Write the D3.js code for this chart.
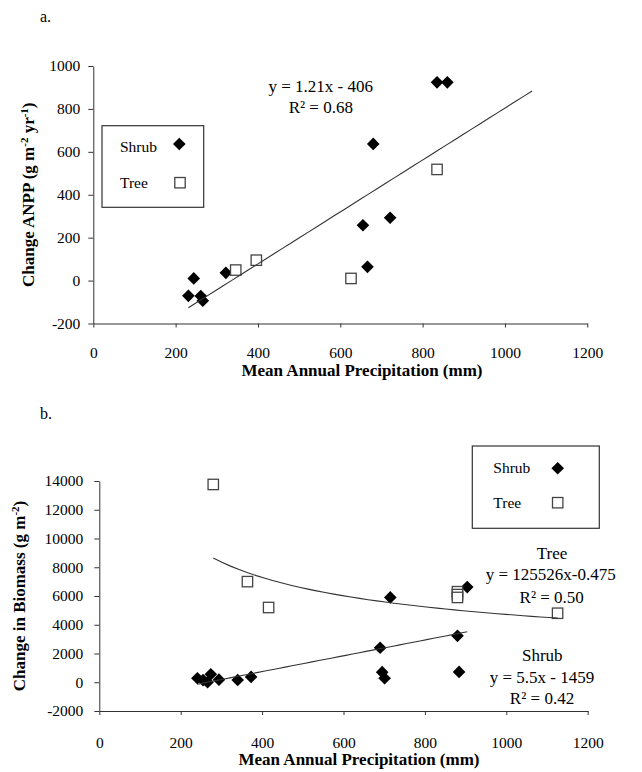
<!DOCTYPE html>
<html>
<head>
<meta charset="utf-8">
<script src="https://cdn.jsdelivr.net/npm/d3@7"></script>
<style>
body { margin: 0; background: #fff; }
text { font-family: "Liberation Serif", "Times New Roman", serif; fill: #000; }
</style>
</head>
<body>
<script>
// shared x axis (mean annual precipitation, mm)
var xTicks = [0, 200, 400, 600, 800, 1000, 1200];

// panel a: change in ANPP
var shrubMapA = [231, 244, 261, 266, 322, 655, 666, 680, 721, 835, 860];
var shrubAnpp = [-71, 10, -72, -94, 36, 258, 64, 637, 293, 924, 924];
var treeMapA = [346, 396, 626, 835];
var treeAnpp = [49, 95, 10, 518];
var yTicksA = [-200, 0, 200, 400, 600, 800, 1000];
var fitA = [1.21, -406];          // y = 1.21x - 406, all sites
var fitRangeA = [231, 1066];

// panel b: change in biomass
var shrubMapB = [241, 255, 266, 274, 294, 340, 373, 690, 695, 701, 715, 880, 884, 904];
var shrubBio = [280, 150, 0, 560, 180, 160, 370, 2400, 700, 280, 5900, 3230, 720, 6620];
var treeMapB = [280, 364, 416, 880, 880, 880, 1126];
var treeBio = [13760, 7000, 5200, 6300, 6100, 5900, 4800];
var yTicksB = [-2000, 0, 2000, 4000, 6000, 8000, 10000, 12000, 14000];
var fitShrubB = [5.5, -1459];      // y = 5.5x - 1459
var fitTreeB = [125526, -0.475];   // y = 125526 x^-0.475

var diamond = d3.symbol().type(d3.symbolSquare).size(80);
var plain = function(d){ return String(d); };   // keep "-200", no thousands comma

function styleAxis(g){
    g.attr("font-family", "Liberation Serif, Times New Roman, serif")
     .attr("font-size", 15.5);
    g.selectAll("path, line").attr("stroke", "#333");
    g.selectAll("text").attr("fill", "#000");
}

function addShrubs(g, xs, ys, x, y){
    g.append("g").selectAll("path")
        .data(d3.range(xs.length))
        .enter()
        .append("path")
        .attr("d", diamond)
        .attr("transform", function(i){
            return "translate(" + x(xs[i]) + "," + y(ys[i]) + ") rotate(45)";
        })
        .attr("fill", "#000");
}

function addTrees(g, xs, ys, x, y){
    g.append("g").selectAll("rect")
        .data(d3.range(xs.length))
        .enter()
        .append("rect")
        .attr("x", function(i){ return x(xs[i]) - 5.2; })
        .attr("y", function(i){ return y(ys[i]) - 5.2; })
        .attr("width", 10.4)
        .attr("height", 10.4)
        .attr("fill", "#fff")
        .attr("stroke", "#444")
        .attr("stroke-width", 1.3);
}

function addFit(g, f, lo, hi, x, y){
    var pts = d3.range(0, 41).map(function(k){
        var v = lo + (hi - lo) * k / 40;
        return [v, f(v)];
    });
    g.append("path")
        .attr("d", d3.line().x(function(d){ return x(d[0]); }).y(function(d){ return y(d[1]); })(pts))
        .attr("fill", "none")
        .attr("stroke", "#333")
        .attr("stroke-width", 1.1);
}

function legend(g, left, top, w, h){
    g.append("rect")
        .attr("x", left).attr("y", top)
        .attr("width", w).attr("height", h)
        .attr("fill", "#fff")
        .attr("stroke", "#333")
        .attr("stroke-width", 1.2);
}

function centreText(g, s, cx, by, size){
    return g.append("text")
        .attr("x", cx).attr("y", by)
        .attr("text-anchor", "middle")
        .attr("font-size", size)
        .text(s);
}

function init(){
    var svg = d3.select("body").append("svg")
        .attr("width", 642)
        .attr("height", 772);

    //---------------- panel a
    var xA = d3.scaleLinear().domain([0, 1200]).range([93.3, 587.3]);
    var yA = d3.scaleLinear().domain([-200, 1000]).range([323.5, 66]);
    var gA = svg.append("g");

    gA.append("text").attr("x", 40).attr("y", 22).attr("font-size", 16).text("a.");

    gA.append("g")
        .attr("transform", "translate(0," + yA(-200) + ")")
        .call(d3.axisBottom(xA).tickValues(xTicks).tickFormat(plain).tickSize(4).tickSizeOuter(0).tickPadding(19))
        .call(styleAxis);
    gA.append("g")
        .attr("transform", "translate(" + xA(0) + ",0)")
        .call(d3.axisLeft(yA).tickValues(yTicksA).tickFormat(plain).tickSize(5).tickSizeOuter(0).tickPadding(8))
        .call(styleAxis);

    addShrubs(gA, shrubMapA, shrubAnpp, xA, yA);
    addTrees(gA, treeMapA, treeAnpp, xA, yA);
    addFit(gA, function(v){ return fitA[0] * v + fitA[1]; }, fitRangeA[0], fitRangeA[1], xA, yA);

    centreText(gA, "y = 1.21x - 406", 320.7, 91.7, 17);
    centreText(gA, "R² = 0.68", 320.8, 113, 17);

    legend(gA, 102, 125.7, 101.7, 81.6);
    gA.append("text").attr("x", 120).attr("y", 151.7).attr("font-size", 15.5).text("Shrub");
    gA.append("text").attr("x", 120).attr("y", 187.7).attr("font-size", 15.5).text("Tree");
    gA.append("path").attr("d", diamond).attr("transform", "translate(179.3,144) rotate(45)");
    gA.append("rect").attr("x", 174.8).attr("y", 177.5).attr("width", 10.4).attr("height", 10.4)
        .attr("fill", "#fff").attr("stroke", "#444").attr("stroke-width", 1.3);

    gA.append("text")
        .attr("x", 362).attr("y", 376)
        .attr("text-anchor", "middle")
        .attr("font-size", 17)
        .attr("font-weight", "bold")
        .text("Mean Annual Precipitation (mm)");

    var tA = gA.append("text")
        .attr("transform", "translate(34," + ((yA(-200) + yA(1000)) / 2) + ") rotate(-90)")
        .attr("text-anchor", "middle")
        .attr("font-size", 17)
        .attr("font-weight", "bold");
    tA.append("tspan").text("Change ANPP (g m");
    tA.append("tspan").attr("dy", -6).attr("font-size", 11).text("-2");
    tA.append("tspan").attr("dy", 6).text(" yr");
    tA.append("tspan").attr("dy", -6).attr("font-size", 11).text("-1");
    tA.append("tspan").attr("dy", 6).text(")");

    //---------------- panel b
    var xB = d3.scaleLinear().domain([0, 1200]).range([99.3, 587.7]);
    var yB = d3.scaleLinear().domain([-2000, 14000]).range([711, 481]);
    var gB = svg.append("g");

    gB.append("text").attr("x", 40).attr("y", 419).attr("font-size", 16).text("b.");

    gB.append("g")
        .attr("transform", "translate(0," + yB(-2000) + ")")
        .call(d3.axisBottom(xB).tickValues(xTicks).tickFormat(plain).tickSize(4).tickSizeOuter(0).tickPadding(22))
        .call(styleAxis);
    gB.append("g")
        .attr("transform", "translate(" + xB(0) + ",0)")
        .call(d3.axisLeft(yB).tickValues(yTicksB).tickFormat(plain).tickSize(5).tickSizeOuter(0).tickPadding(11))
        .call(styleAxis);

    addShrubs(gB, shrubMapB, shrubBio, xB, yB);
    addTrees(gB, treeMapB, treeBio, xB, yB);
    addFit(gB, function(v){ return fitShrubB[0] * v + fitShrubB[1]; },
        d3.min(shrubMapB), d3.max(shrubMapB), xB, yB);
    addFit(gB, function(v){ return fitTreeB[0] * Math.pow(v, fitTreeB[1]); },
        d3.min(treeMapB), d3.max(treeMapB), xB, yB);

    legend(gB, 472.3, 446, 127, 82.3);
    gB.append("text").attr("x", 493.3).attr("y", 472.7).attr("font-size", 15.5).text("Shrub");
    gB.append("text").attr("x", 493.3).attr("y", 508).attr("font-size", 15.5).text("Tree");
    gB.append("path").attr("d", diamond).attr("transform", "translate(557.7,468.3) rotate(45)");
    gB.append("rect").attr("x", 552.5).attr("y", 497.5).attr("width", 10.4).attr("height", 10.4)
        .attr("fill", "#fff").attr("stroke", "#444").attr("stroke-width", 1.3);

    centreText(gB, "Tree", 552, 559.3, 17);
    centreText(gB, "y = 125526x-0.475", 550.7, 580, 17);
    centreText(gB, "R² = 0.50", 551.7, 603, 17);
    centreText(gB, "Shrub", 542.3, 660.7, 17);
    centreText(gB, "y = 5.5x - 1459", 542, 682.7, 17);
    centreText(gB, "R² = 0.42", 542, 704, 17);

    gB.append("text")
        .attr("x", 359).attr("y", 765)
        .attr("text-anchor", "middle")
        .attr("font-size", 17)
        .attr("font-weight", "bold")
        .text("Mean Annual Precipitation (mm)");

    var tB = gB.append("text")
        .attr("transform", "translate(25," + ((yB(-2000) + yB(14000)) / 2) + ") rotate(-90)")
        .attr("text-anchor", "middle")
        .attr("font-size", 17)
        .attr("font-weight", "bold");
    tB.append("tspan").text("Change in Biomass (g m");
    tB.append("tspan").attr("dy", -6).attr("font-size", 11).text("-2");
    tB.append("tspan").attr("dy", 6).text(")");
}
window.onload = init;
</script>
</body>
</html>
